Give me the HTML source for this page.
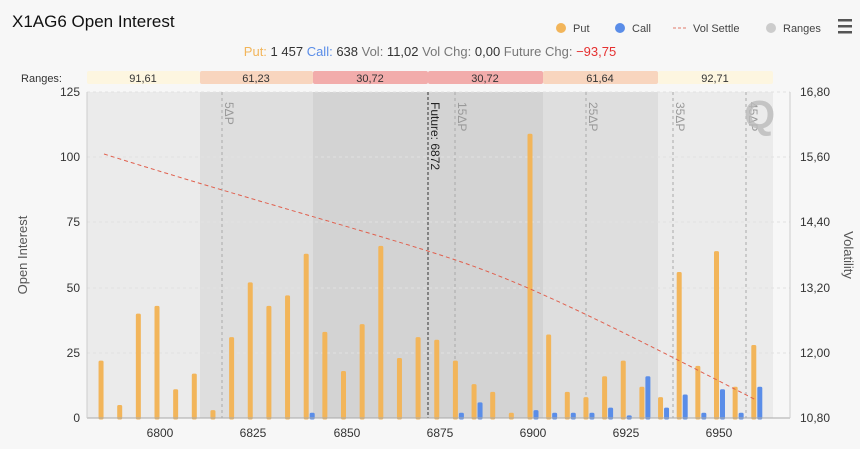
<!DOCTYPE html>
<html><head><meta charset="utf-8"><style>
body{margin:0;background:#f7f7f7;font-family:"Liberation Sans",sans-serif}
svg{display:block}
</style></head><body>
<svg width="860" height="449" xmlns="http://www.w3.org/2000/svg" font-family="Liberation Sans, sans-serif">
<rect width="860" height="449" fill="#f7f7f7"/>
<text x="12" y="27" font-size="17" fill="#111">X1AG6 Open Interest</text>
<circle cx="561" cy="28" r="5" fill="#f2b55a"/><text x="573" y="32" font-size="11" fill="#444">Put</text>
<circle cx="620" cy="28" r="5" fill="#5a8de8"/><text x="632" y="32" font-size="11" fill="#444">Call</text>
<line x1="673" y1="28" x2="688" y2="28" stroke="#e07a6a" stroke-dasharray="3,2"/><text x="693" y="32" font-size="11" fill="#444">Vol Settle</text>
<circle cx="771" cy="28" r="5" fill="#cccccc"/><text x="783" y="32" font-size="11" fill="#444">Ranges</text>
<rect x="838" y="19" width="14" height="2.5" fill="#555"/><rect x="838" y="25" width="14" height="2.5" fill="#555"/><rect x="838" y="31" width="14" height="2.5" fill="#555"/>
<text x="430" y="56" font-size="13" text-anchor="middle" fill="#333"><tspan fill="#f2b55a">Put:</tspan> 1 457 <tspan fill="#5a8de8">Call:</tspan> 638 <tspan fill="#777">Vol:</tspan> 11,02 <tspan fill="#777">Vol Chg:</tspan> 0,00 <tspan fill="#777">Future Chg:</tspan> <tspan fill="#e53030">−93,75</tspan></text>
<text x="62" y="82" font-size="11" text-anchor="end" fill="#333">Ranges:</text>
<g font-size="11" text-anchor="middle" fill="#333">
<rect x="87" y="71" width="113" height="13" rx="2" fill="#fdf6e0"/><text x="143" y="82">91,61</text>
<rect x="200" y="71" width="113" height="13" rx="2" fill="#f8d5be"/><text x="256" y="82">61,23</text>
<rect x="313" y="71" width="115" height="13" rx="2" fill="#f2acab"/><text x="370" y="82">30,72</text>
<rect x="428" y="71" width="115" height="13" rx="2" fill="#f2acab"/><text x="485" y="82">30,72</text>
<rect x="543" y="71" width="115" height="13" rx="2" fill="#f8d5be"/><text x="600" y="82">61,64</text>
<rect x="658" y="71" width="115" height="13" rx="2" fill="#fdf6e0"/><text x="715" y="82">92,71</text>
</g>
<rect x="87" y="92" width="113" height="326" fill="#ebebeb"/>
<rect x="200" y="92" width="113" height="326" fill="#dedede"/>
<rect x="313" y="92" width="230" height="326" fill="#d3d3d3"/>
<rect x="543" y="92" width="115" height="326" fill="#dedede"/>
<rect x="658" y="92" width="115" height="326" fill="#ebebeb"/>
<g stroke="#e2e2e2" stroke-dasharray="3,3">
<line x1="87" y1="92" x2="790" y2="92"/><line x1="87" y1="157" x2="790" y2="157"/><line x1="87" y1="222" x2="790" y2="222"/><line x1="87" y1="288" x2="790" y2="288"/><line x1="87" y1="353" x2="790" y2="353"/>
</g>
<g stroke="#aaa" stroke-dasharray="3,3">
<line x1="222" y1="92" x2="222" y2="418"/><line x1="455" y1="92" x2="455" y2="418"/><line x1="586" y1="92" x2="586" y2="418"/><line x1="673" y1="92" x2="673" y2="418"/><line x1="746" y1="92" x2="746" y2="418"/>
</g>
<line x1="428" y1="92" x2="428" y2="418" stroke="#333" stroke-dasharray="3,2"/>
<g font-size="12" fill="#999">
<text transform="translate(225,102) rotate(90)">5ΔP</text>
<text transform="translate(458,102) rotate(90)">15ΔP</text>
<text transform="translate(589,102) rotate(90)">25ΔP</text>
<text transform="translate(676,102) rotate(90)">35ΔP</text>
<text transform="translate(749,102) rotate(90)">45ΔP</text>
</g>
<text transform="translate(431,102) rotate(90)" font-size="12" fill="#222">Future: 6872</text>
<text x="744" y="128" font-size="40" font-weight="bold" fill="#bbb" opacity="0.8">Q</text>
<g id="bars"></g>
<path fill="none" stroke="#e0604e" stroke-width="1" stroke-dasharray="4,3" d="M104,154 C250,200 400,240 470,265 S620,330 756,400"/>
<line x1="87" y1="418" x2="790" y2="418" stroke="#aaa"/>
<line x1="87" y1="92" x2="87" y2="418" stroke="#ccc"/>
<line x1="790" y1="92" x2="790" y2="418" stroke="#ccc"/>
<g font-size="12" fill="#333" text-anchor="end">
<text x="80" y="96">125</text><text x="80" y="161">100</text><text x="80" y="226">75</text><text x="80" y="292">50</text><text x="80" y="357">25</text><text x="80" y="422">0</text>
</g>
<g font-size="12" fill="#333">
<text x="800" y="96">16,80</text><text x="800" y="161">15,60</text><text x="800" y="226">14,40</text><text x="800" y="292">13,20</text><text x="800" y="357">12,00</text><text x="800" y="422">10,80</text>
</g>
<g font-size="12" fill="#333" text-anchor="middle">
<text x="160" y="437">6800</text><text x="253" y="437">6825</text><text x="347" y="437">6850</text><text x="440" y="437">6875</text><text x="533" y="437">6900</text><text x="626" y="437">6925</text><text x="719" y="437">6950</text>
</g>
<text transform="translate(27,255) rotate(-90)" font-size="13" fill="#555" text-anchor="middle">Open Interest</text>
<text transform="translate(844,255) rotate(90)" font-size="13" fill="#555" text-anchor="middle">Volatility</text>
</svg>
<script>
var puts={6785:22,6790:5,6795:40,6800:43,6805:11,6810:17,6815:3,6820:31,6825:52,6830:43,6835:47,6840:63,6845:33,6850:18,6855:36,6860:66,6865:23,6870:31,6875:30,6880:22,6885:13,6890:10,6895:2,6900:109,6905:32,6910:10,6915:8,6920:16,6925:22,6930:12,6935:8,6940:56,6945:20,6950:64,6955:12,6960:28};
var calls={6840:2,6880:2,6885:6,6900:3,6905:2,6910:2,6915:2,6920:4,6925:1,6930:16,6935:4,6940:9,6945:2,6950:11,6955:2,6960:12};
var g=document.getElementById('bars'),s='';
function bar(x,v,c){var h=v*2.608;s+='<rect x="'+(x-2.5)+'" y="'+(418-h)+'" width="5" height="'+(h+1.5)+'" rx="1.5" fill="'+c+'"/>';}
for(var k in puts){bar(160+(k-6800)*3.73-3,puts[k],'#f2b55a');}
for(var k in calls){bar(160+(k-6800)*3.73+3,calls[k],'#5a8de8');}
g.innerHTML=s;
</script>
</body></html>
